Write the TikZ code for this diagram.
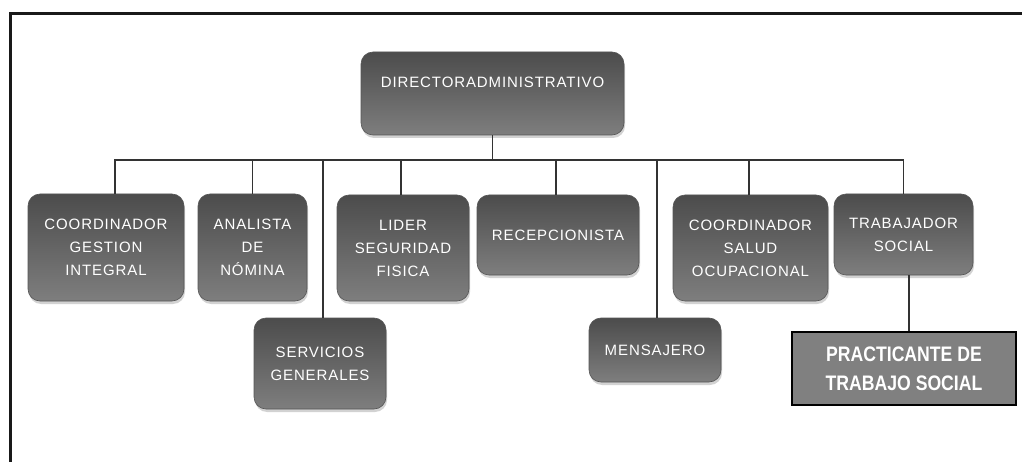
\documentclass[tikz,border=0pt]{standalone}
\usepackage{fontspec}
\setmainfont{Liberation Sans}
\newfontfamily\boxfont[LetterSpace=6]{Liberation Sans}
\newfontfamily\practfont[FakeStretch=0.84]{Liberation Sans}
\usetikzlibrary{shadows}
\definecolor{boxtop}{HTML}{4C4C4C}
\definecolor{boxbot}{HTML}{7E7E7E}
\definecolor{boxedge}{HTML}{555555}
\definecolor{wire}{HTML}{333333}
\definecolor{practfill}{HTML}{808080}
\tikzset{
  orgbox/.style={rectangle, rounded corners=12pt, draw=boxedge, line width=0.6pt,
    top color=boxtop, bottom color=boxbot, text=white, inner sep=0pt,
    align=center, font=\boxfont\fontsize{15}{23}\selectfont,
    drop shadow={shadow xshift=1pt, shadow yshift=-3pt, opacity=0.35}},
  practbox/.style={rectangle, draw=black, line width=2pt, fill=practfill,
    text=white, inner sep=0pt, align=center,
    font=\practfont\bfseries\fontsize{21}{29}\selectfont},
  wireline/.style={draw=wire, line width=1.5pt},
  frameline/.style={draw=black!90, line width=3pt}
}
\begin{document}
\begin{tikzpicture}[x=1pt, y=-1pt]
\useasboundingbox (0,0) rectangle (1022,462);
\fill[white] (0,0) rectangle (1022,462);

% outer frame
\draw[frameline] (1030,14) -- (10,14) -- (10,470);

% head of the chart
\node[orgbox, minimum width=263pt, minimum height=83pt, text height=11pt, text depth=23pt]
  (dir) at (492.5,93.5) {DIRECTORADMINISTRATIVO};

% first level
\node[orgbox, minimum width=156pt, minimum height=107pt] (c1) at (106,247.5)
  {COORDINADOR\\GESTION\\INTEGRAL};
\node[orgbox, minimum width=109pt, minimum height=107pt] (c2) at (252.5,247.5)
  {ANALISTA\\DE\\NÓMINA};
\node[orgbox, minimum width=132pt, minimum height=106pt] (c3) at (403,248)
  {LIDER\\SEGURIDAD\\FISICA};
\node[orgbox, minimum width=162pt, minimum height=80pt] (c4) at (558,235)
  {RECEPCIONISTA};
\node[orgbox, minimum width=155pt, minimum height=106pt] (c5) at (750.5,248)
  {COORDINADOR\\SALUD\\OCUPACIONAL};
\node[orgbox, minimum width=139pt, minimum height=81pt] (c6) at (903.5,234.5)
  {TRABAJADOR\\SOCIAL};

% lower boxes hanging from the same bus
\node[orgbox, minimum width=132pt, minimum height=91pt] (s1) at (320,363.5)
  {SERVICIOS\\GENERALES};
\node[orgbox, minimum width=132pt, minimum height=64pt] (s2) at (655,350)
  {MENSAJERO};

% trainee under the social worker
\node[practbox, minimum width=224pt, minimum height=73pt] (pr) at (904,368.5)
  {PRACTICANTE DE\\TRABAJO SOCIAL};

% connectors
\coordinate (bus) at (0,160);
\draw[wireline] (dir.south) -- (dir.south |- bus);
\draw[wireline] ([xshift=9pt]c1.north) -- ([xshift=9pt]c1.north |- bus)
  -- (c6.north |- bus) -- (c6.north);
\draw[wireline] (c2.north) -- (c2.north |- bus);
\draw[wireline] ([xshift=-2pt]c3.north) -- ([xshift=-2pt]c3.north |- bus);
\draw[wireline] ([xshift=-2pt]c4.north) -- ([xshift=-2pt]c4.north |- bus);
\draw[wireline] ([xshift=-1.5pt]c5.north) -- ([xshift=-1.5pt]c5.north |- bus);
\draw[wireline] ([xshift=3pt]s1.north) -- ([xshift=3pt]s1.north |- bus);
\draw[wireline] ([xshift=2pt]s2.north) -- ([xshift=2pt]s2.north |- bus);
\draw[wireline] ([xshift=5.5pt]c6.south) -- ([xshift=5.5pt]c6.south |- pr.north);
\end{tikzpicture}
\end{document}
